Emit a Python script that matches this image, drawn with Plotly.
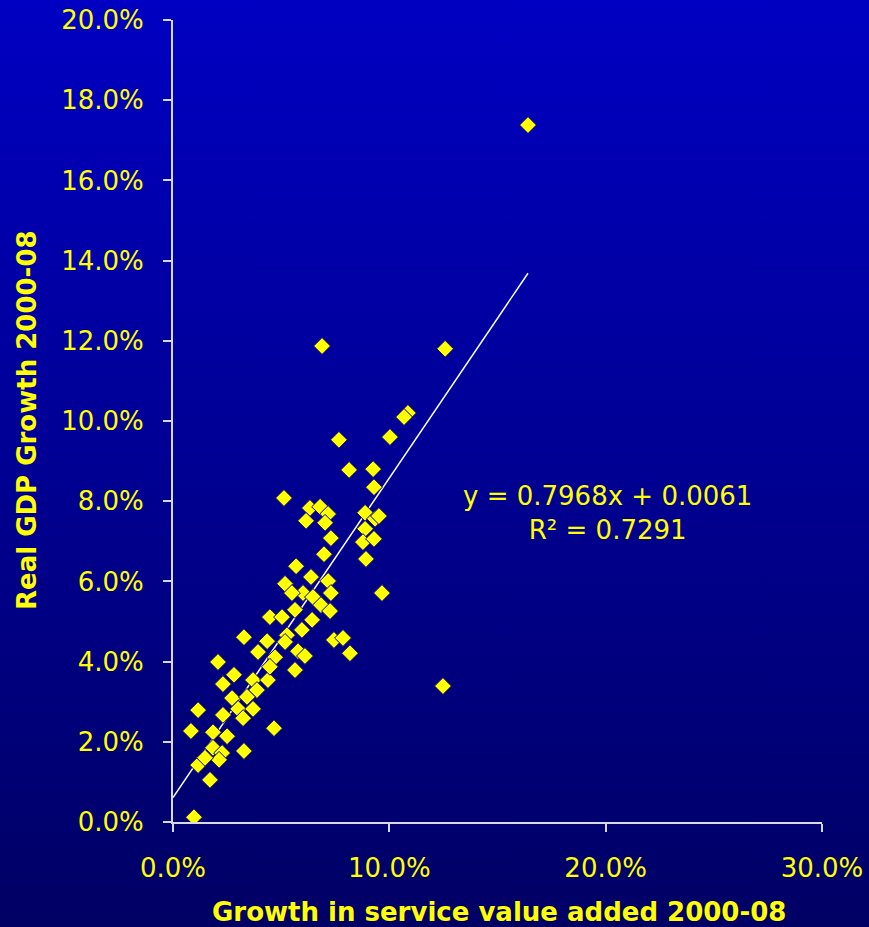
import base64
import plotly.graph_objects as go

# Growth in service value added 2000-08 (fraction)
service_growth = [
    0.1641, 0.0689, 0.1258, 0.1086, 0.1068, 0.1003, 0.0767, 0.0814, 0.0925, 0.0929,
    0.0513, 0.0633, 0.0680, 0.0717, 0.0615, 0.0703, 0.0888, 0.0934, 0.0952, 0.0888,
    0.0878, 0.0929, 0.0730, 0.0698, 0.0892, 0.0569, 0.0638, 0.0717, 0.0518, 0.0730,
    0.0966, 0.0601, 0.0647, 0.0684, 0.0726, 0.0564, 0.0448, 0.0504, 0.0643, 0.0596,
    0.0328, 0.0527, 0.0435, 0.0744, 0.0786, 0.0818, 0.0578, 0.0610, 0.0393, 0.0472,
    0.0564, 0.0208, 0.0282, 0.0231, 0.0370, 0.0439, 0.0448, 0.0388, 0.0273, 0.0342,
    0.0116, 0.0231, 0.0301, 0.0370, 0.0324, 0.0467, 0.0083, 0.0185, 0.0250, 0.0185,
    0.0227, 0.0328, 0.0213, 0.0116, 0.0148, 0.0171, 0.0097, 0.1248, 0.0518, 0.0550,
]
# Real GDP growth 2000-08 (fraction)
gdp_growth = [
    0.1738, 0.1187, 0.1180, 0.1020, 0.1010, 0.0960, 0.0953, 0.0878, 0.0880, 0.0835,
    0.0808, 0.0783, 0.0786, 0.0768, 0.0751, 0.0746, 0.0771, 0.0756, 0.0763, 0.0731,
    0.0698, 0.0706, 0.0708, 0.0668, 0.0656, 0.0638, 0.0611, 0.0601, 0.0594, 0.0571,
    0.0571, 0.0571, 0.0561, 0.0541, 0.0526, 0.0529, 0.0511, 0.0511, 0.0504, 0.0479,
    0.0461, 0.0466, 0.0451, 0.0454, 0.0459, 0.0421, 0.0426, 0.0414, 0.0424, 0.0411,
    0.0379, 0.0399, 0.0367, 0.0344, 0.0354, 0.0354, 0.0387, 0.0329, 0.0309, 0.0312,
    0.0279, 0.0267, 0.0282, 0.0282, 0.0259, 0.0234, 0.0227, 0.0224, 0.0214, 0.0185,
    0.0172, 0.0177, 0.0155, 0.0142, 0.0160, 0.0105, 0.0012, 0.0339, 0.0449, 0.0571,
]

trend_slope = 0.7968
trend_intercept = 0.0061
r_squared = 0.7291

y_ticks = [0.0, 0.02, 0.04, 0.06, 0.08, 0.10, 0.12, 0.14, 0.16, 0.18, 0.20]
x_ticks = [0.0, 0.10, 0.20, 0.30]

W, H = 869, 927
YELLOW = "#FFFF00"
AXIS = "#D8D8E8"
FONT = "DejaVu Sans, Verdana, sans-serif"

svg = (
    f'<svg xmlns="http://www.w3.org/2000/svg" width="{W}" height="{H}" preserveAspectRatio="none">'
    '<defs><linearGradient id="g" x1="0" y1="0" x2="0" y2="1">'
    '<stop offset="0" stop-color="#0000C2"/><stop offset="1" stop-color="#000064"/>'
    '</linearGradient></defs>'
    f'<rect width="{W}" height="{H}" fill="url(#g)"/></svg>'
)
bg_src = "data:image/svg+xml;base64," + base64.b64encode(svg.encode()).decode()

trend_x = [0.0, max(service_growth)]
trend_y = [trend_slope * v + trend_intercept for v in trend_x]

fig = go.Figure()
fig.add_trace(go.Scatter(
    x=trend_x, y=trend_y, mode="lines",
    line=dict(color="white", width=1.5), hoverinfo="skip", showlegend=False,
))
fig.add_trace(go.Scatter(
    x=service_growth, y=gdp_growth, mode="markers",
    marker=dict(symbol="diamond", size=13, color=YELLOW,
                line=dict(color="#000080", width=1)),
    showlegend=False,
))

fig.update_layout(
    width=W, height=H,
    margin=dict(l=0, r=0, t=0, b=0),
    paper_bgcolor="#000090",
    plot_bgcolor="rgba(0,0,0,0)",
    font=dict(family=FONT, color=YELLOW, size=26),
    images=[dict(source=bg_src, xref="paper", yref="paper", x=0, y=1,
                 sizex=1, sizey=1, sizing="stretch", layer="below",
                 xanchor="left", yanchor="top")],
    xaxis=dict(
        domain=[173 / W, 822 / W], range=[0, 0.30],
        tickvals=x_ticks, tickformat=".1%",
        showgrid=False, zeroline=False,
        showline=True, linecolor=AXIS, linewidth=2,
        ticks="outside", ticklen=8, tickwidth=2, tickcolor=AXIS,
        tickfont=dict(family=FONT, size=26, color=YELLOW),
        ticklabelstandoff=14, automargin=False,
    ),
    yaxis=dict(
        domain=[1 - 822 / H, 1 - 20 / H], range=[0, 0.20],
        tickvals=y_ticks, tickformat=".1%",
        showgrid=False, zeroline=False,
        showline=True, linecolor=AXIS, linewidth=2,
        ticks="outside", ticklen=8, tickwidth=2, tickcolor=AXIS,
        tickfont=dict(family=FONT, size=26, color=YELLOW),
        ticklabelstandoff=14, automargin=False,
    ),
    annotations=[
        dict(text="<b>Growth in service value added 2000-08</b>",
             xref="paper", yref="paper", x=499 / W, y=1 - 912 / H,
             xanchor="center", yanchor="middle", showarrow=False,
             font=dict(family=FONT, size=26, color=YELLOW)),
        dict(text="<b>Real GDP Growth 2000-08</b>",
             xref="paper", yref="paper", x=27 / W, y=1 - 420 / H,
             xanchor="center", yanchor="middle", showarrow=False, textangle=-90,
             font=dict(family=FONT, size=26, color=YELLOW)),
        dict(text=f"y = {trend_slope:.4f}x + {trend_intercept:.4f}<br>R² = {r_squared:.4f}",
             xref="paper", yref="paper", x=607 / W, y=1 - 513 / H,
             xanchor="center", yanchor="middle", showarrow=False, align="center",
             font=dict(family=FONT, size=26, color=YELLOW)),
    ],
)

fig.write_html(
    "out.html",
    config={"displayModeBar": False},
    post_script="document.body.style.margin='0';document.body.style.overflow='hidden';",
)
